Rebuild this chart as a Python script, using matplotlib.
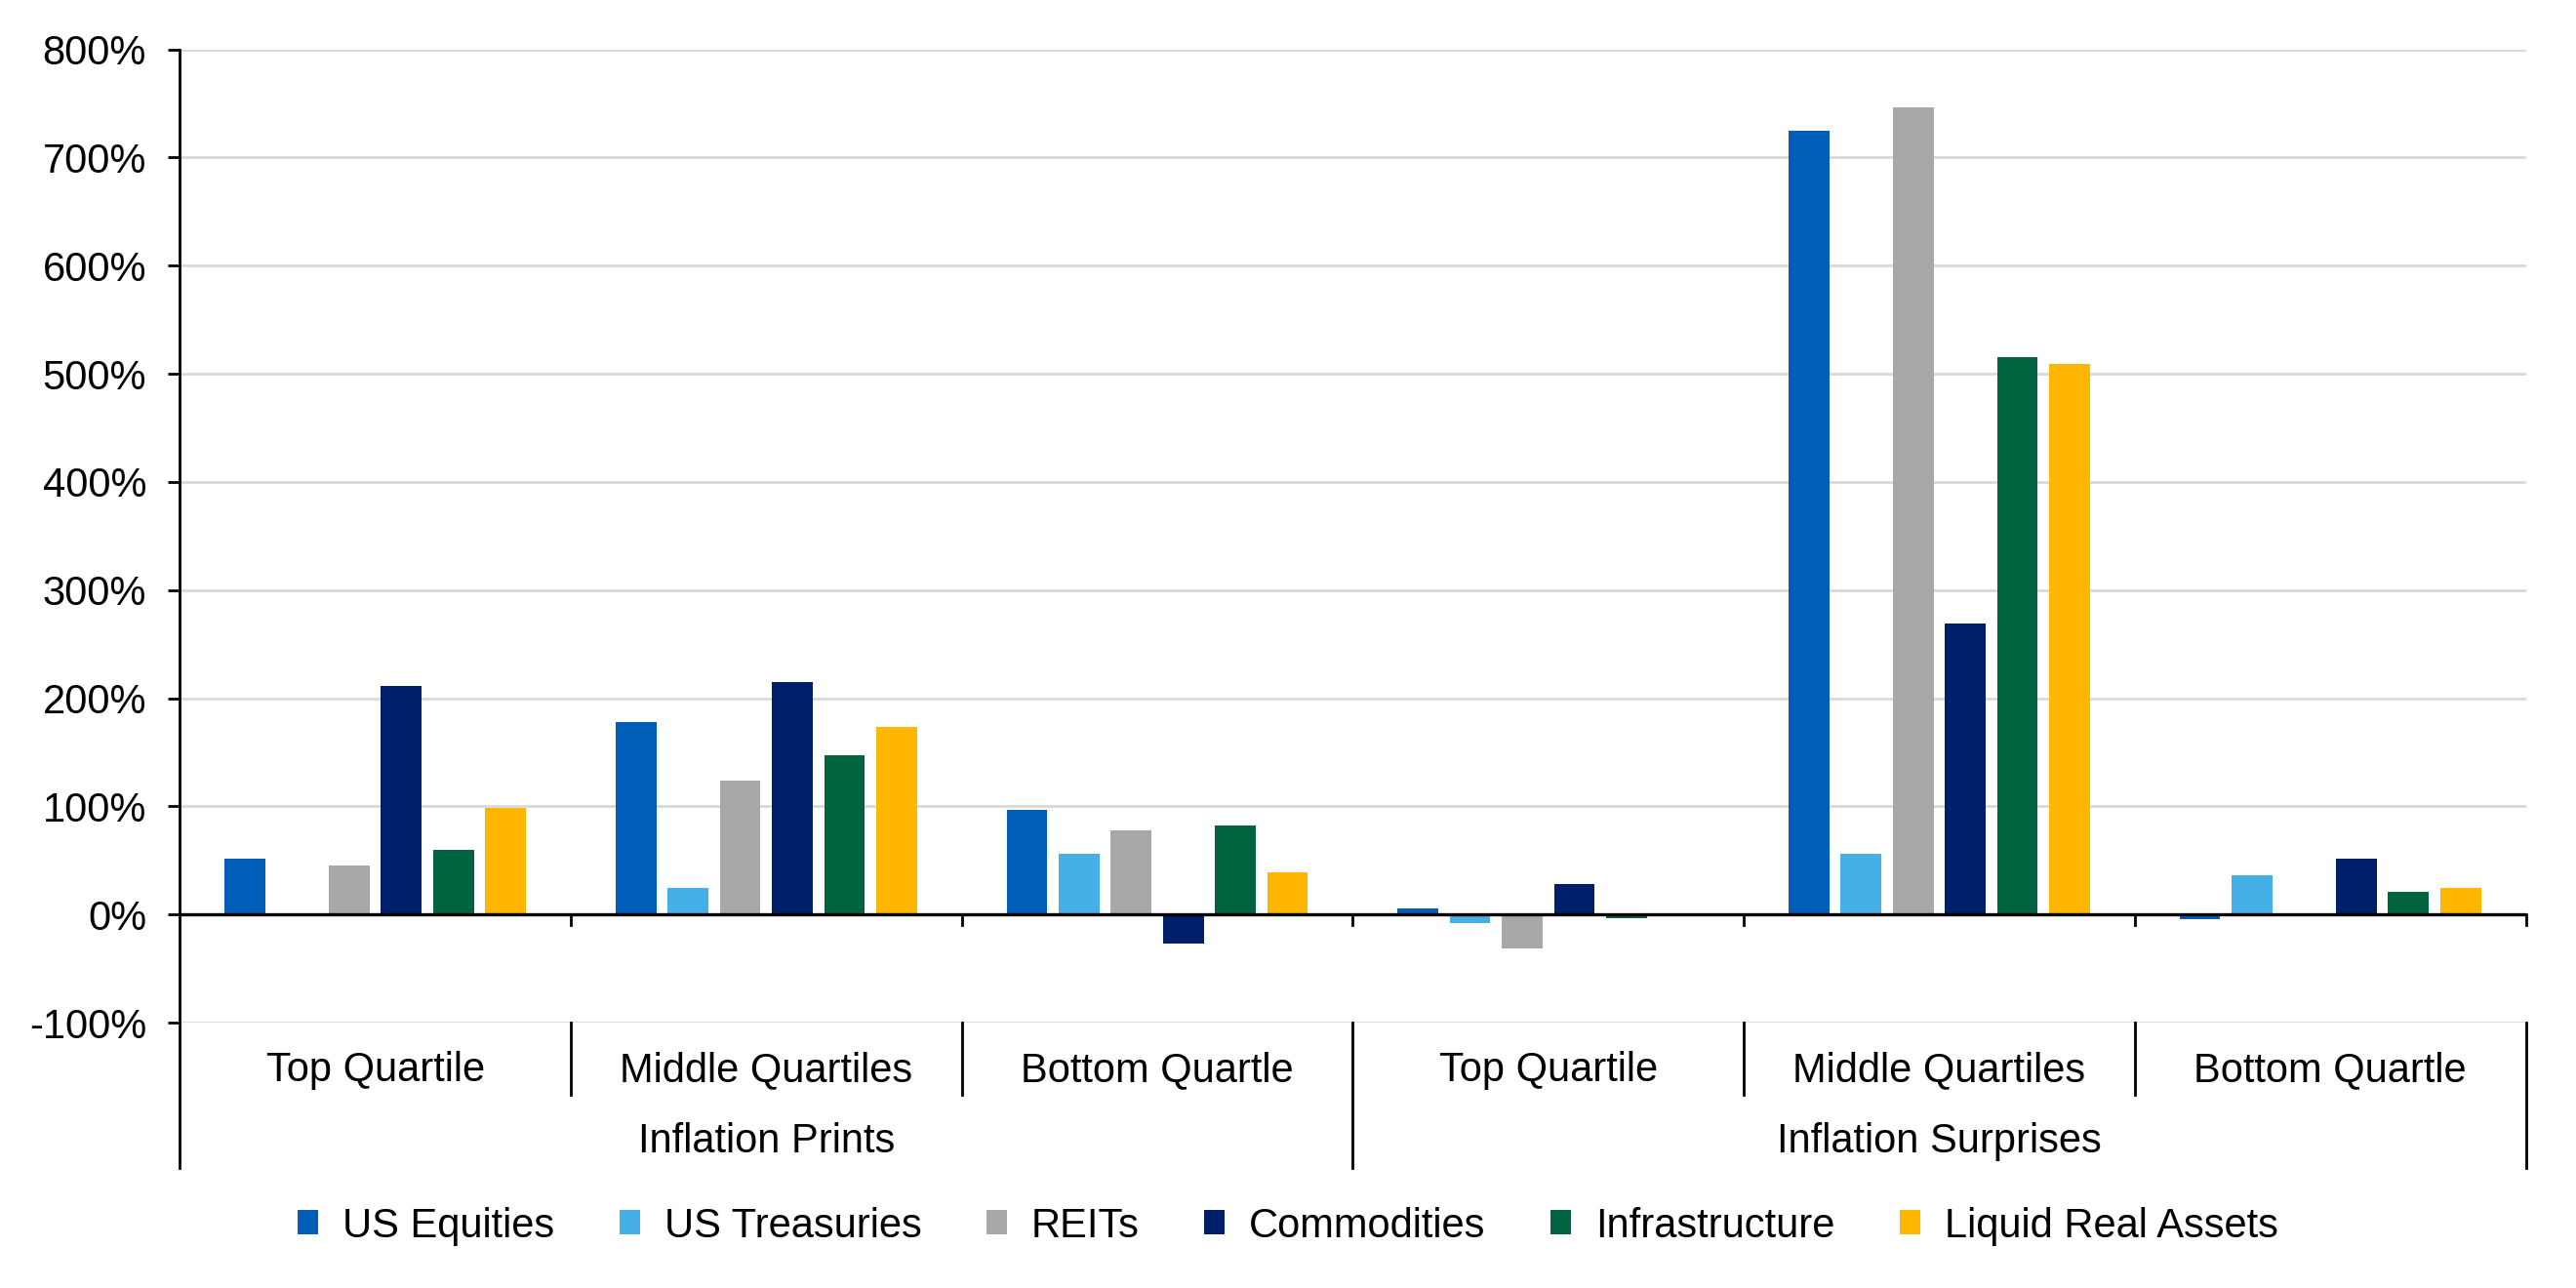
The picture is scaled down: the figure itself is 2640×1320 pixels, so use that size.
import numpy as np
import matplotlib
matplotlib.use("Agg")
import matplotlib.pyplot as plt
from matplotlib.patches import Patch

plt.rcParams['font.family'] = ['Liberation Sans', 'DejaVu Sans']
plt.rcParams['axes.unicode_minus'] = False

groups = ["Inflation Prints", "Inflation Surprises"]
quartiles = ["Top Quartile", "Middle Quartiles", "Bottom Quartle"]
series = ["US Equities", "US Treasuries", "REITs", "Commodities", "Infrastructure", "Liquid Real Assets"]
colors = ["#005EB8", "#45B0E8", "#A7A8A9", "#001F6B", "#00653F", "#FFB600"]

# values in % ; order: Prints Top, Prints Middle, Prints Bottom, Surprises Top, Surprises Middle, Surprises Bottom
us_equities = [52, 178, 97, 6, 725, -4]
us_treasuries = [0, 25, 56, -8, 56, 36]
reits = [45, 124, 78, -31, 746, 0]
commodities = [211, 215, -27, 28, 269, 52]
infrastructure = [60, 147, 82, -3, 515, 21]
liquid_real_assets = [99, 173, 39, 0, 509, 25]
values = [us_equities, us_treasuries, reits, commodities, infrastructure, liquid_real_assets]

yticks = [-100, 0, 100, 200, 300, 400, 500, 600, 700, 800]

FS = 15

fig = plt.figure(figsize=(13.2, 6.6), dpi=200)
ax = fig.add_axes([0.0698, 0.206, 0.9805 - 0.0698, 0.9617 - 0.206])

ncat = len(groups) * len(quartiles)
x = np.arange(ncat) + 0.5
slot = 0.1333
bw = 0.104
for i, (vals, c, name) in enumerate(zip(values, colors, series)):
    ax.bar(x + (i - 2.5) * slot, vals, width=bw, color=c, linewidth=0, zorder=3, label=name)

ax.set_xlim(0, ncat)
ax.set_ylim(-100, 800)
ax.set_yticks(yticks)
ax.set_yticklabels([f"{v}%" for v in yticks])
ax.tick_params(axis='y', length=4.3, width=1.0, pad=8, labelsize=FS, color='black')
ax.set_xticks([])
ax.grid(axis='y', color='#D9D9D9', linewidth=1.0, zorder=0)
for s in ['top', 'right', 'bottom', 'left']:
    ax.spines[s].set_visible(False)

# zero line
ax.axhline(0, color='black', linewidth=1.2, zorder=4)

trans = ax.get_xaxis_transform()
# left axis line extended below the plot
ax.plot([0, 0], [1.0, -0.149], transform=trans, color='black', linewidth=1.0, clip_on=False, zorder=5)

# small downward ticks on the zero line at category boundaries
tick_down = -11 / 997.5 * 900
for b in range(1, ncat + 1):
    ax.plot([b, b], [0, tick_down], color='black', linewidth=1.0, clip_on=False, zorder=5)

# category separators below the plot
for b in range(1, ncat):
    if b % len(quartiles) == 0:
        continue
    ax.plot([b, b], [0, -0.074], transform=trans, color='black', linewidth=1.0, clip_on=False)
for b in range(len(quartiles), ncat + 1, len(quartiles)):
    ax.plot([b, b], [0, -0.149], transform=trans, color='black', linewidth=1.0, clip_on=False)

for k in range(ncat):
    ax.text(k + 0.5, -0.049, quartiles[k % len(quartiles)], transform=trans,
            ha='center', va='center', fontsize=FS)
for g, name in enumerate(groups):
    ax.text(g * len(quartiles) + len(quartiles) / 2, -0.122, name, transform=trans,
            ha='center', va='center', fontsize=FS)

handles = [Patch(facecolor=c, edgecolor='none', label=n) for c, n in zip(colors, series)]
fig.legend(handles=handles, loc='center', bbox_to_anchor=(0.5, 0.048), ncol=6, frameon=False,
           fontsize=FS, handlelength=0.5, handleheight=0.55, handletextpad=0.6, columnspacing=1.6)

fig.savefig("out.png", dpi=200)
